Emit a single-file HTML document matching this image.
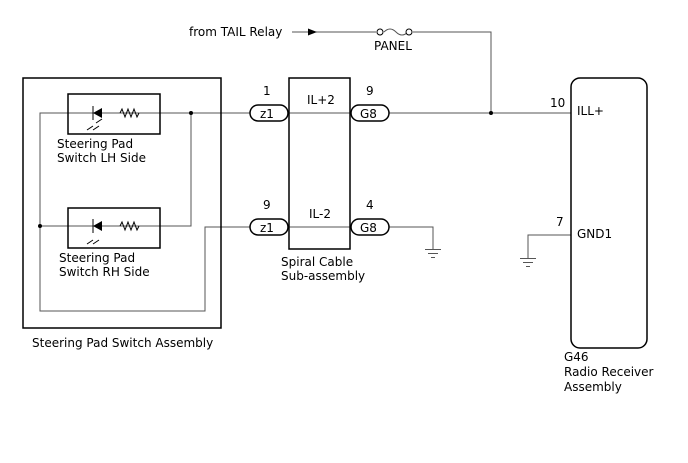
<!DOCTYPE html>
<html><head><style>body{margin:0;background:#fff}svg{display:block}text{font-family:"DejaVu Sans","Liberation Sans",sans-serif;font-size:12px;fill:#000}</style></head><body>
<svg width="688" height="463" viewBox="0 0 688 463" xmlns="http://www.w3.org/2000/svg">
<g fill="none" stroke="#555" stroke-width="1">
<!-- left internal wiring -->
<polyline points="250,113 40,113 40,311 205,311 205,227 250,227"/>
<polyline points="191,113 191,226 40,226"/>
<line x1="288" y1="113" x2="351" y2="113"/>
<line x1="288" y1="227" x2="351" y2="227"/>
<line x1="389" y1="113" x2="571" y2="113"/>
<polyline points="389,227 433,227 433,249"/>
<polyline points="571,235 528,235 528,258"/>
<polyline points="292,32 376,32"/>
<polyline points="413,32 491,32 491,113"/>
<path d="M384,32 q6,-6 12,0 q6,6 12,0"/>
<line x1="425" y1="249.5" x2="441" y2="249.5"/><line x1="428" y1="253.5" x2="438" y2="253.5"/><line x1="431" y1="257.5" x2="435" y2="257.5"/>
<line x1="520" y1="258.5" x2="536" y2="258.5"/><line x1="523" y1="262.5" x2="533" y2="262.5"/><line x1="526" y1="266.5" x2="530" y2="266.5"/>
</g>
<g fill="none" stroke="#000" stroke-width="1.5">
<rect x="23" y="78" width="198" height="250"/>
<rect x="68" y="94" width="92" height="40" fill="none"/>
<rect x="68" y="208" width="92" height="40"/>
<rect x="289" y="78" width="61" height="171"/>
<rect x="571" y="78" width="76" height="270" rx="9"/>
<rect x="250" y="105" width="38" height="16" rx="8" fill="#fff"/>
<rect x="351" y="105" width="38" height="16" rx="8" fill="#fff"/>
<rect x="250" y="219" width="38" height="16" rx="8" fill="#fff"/>
<rect x="351" y="219" width="38" height="16" rx="8" fill="#fff"/>
</g>
<g stroke="#000" stroke-width="1" fill="none">
<circle cx="380" cy="32" r="3" fill="#fff"/><circle cx="409" cy="32" r="3" fill="#fff"/>
<path d="M93,106 v14 M93,227 v0"/>
<path d="M120,113 l2,-4 3,8 3,-8 3,8 3,-8 3,8 2,-4"/>
<path d="M120,226 l2,-4 3,8 3,-8 3,8 3,-8 3,8 2,-4"/>
<path d="M93,219 v14"/>
<path d="M87,130 l6,-4 M93,130 l6,-4 M96,123 l6,-4"/>
<path d="M87,244 l6,-4 M93,244 l6,-4"/>
</g>
<g fill="#000">
<polygon points="93,113 102,108 102,118"/>
<polygon points="93,226 102,221 102,231"/>
<polygon points="317,32 308,28.5 308,35.5"/>
<circle cx="191" cy="113" r="2"/><circle cx="40" cy="226" r="2"/><circle cx="491" cy="113" r="2"/>
</g>
<text x="189" y="36">from TAIL Relay</text>
<text x="374" y="50">PANEL</text>
<text x="263" y="95">1</text><text x="307" y="104">IL+2</text><text x="366" y="95">9</text>
<text x="263" y="209">9</text><text x="309" y="218">IL-2</text><text x="366" y="209">4</text>
<text x="260" y="118">z1</text><text x="360" y="118">G8</text>
<text x="260" y="232">z1</text><text x="360" y="232">G8</text>
<text x="550" y="107">10</text><text x="577" y="115">ILL+</text>
<text x="556" y="226">7</text><text x="577" y="238">GND1</text>
<text x="57" y="148">Steering Pad</text><text x="57" y="162">Switch LH Side</text>
<text x="59" y="262">Steering Pad</text><text x="59" y="276">Switch RH Side</text>
<text x="32" y="347">Steering Pad Switch Assembly</text>
<text x="281" y="266">Spiral Cable</text><text x="281" y="280">Sub-assembly</text>
<text x="564" y="361">G46</text><text x="564" y="376">Radio Receiver</text><text x="564" y="391">Assembly</text>
</svg>
</body></html>
